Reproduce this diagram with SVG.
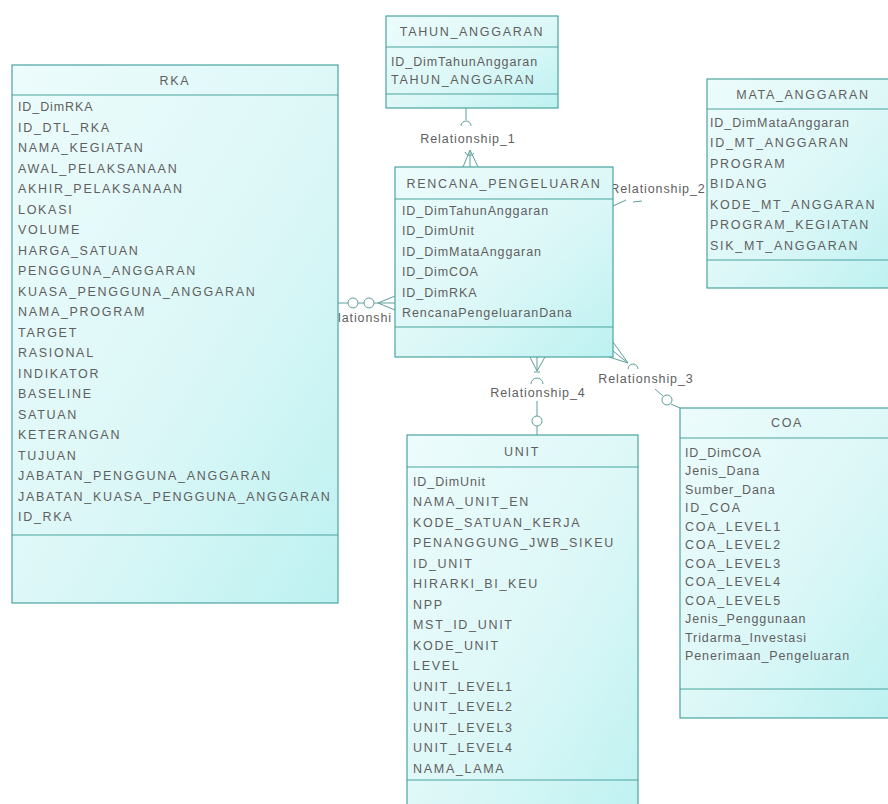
<svg xmlns="http://www.w3.org/2000/svg" width="888" height="804" viewBox="0 0 888 804">
  <defs>
    <linearGradient id="boxFill" x1="0" y1="0" x2="1" y2="1">
      <stop offset="0" stop-color="#edfcfc"/>
      <stop offset="0.55" stop-color="#dcf7f7"/>
      <stop offset="1" stop-color="#bdf1f1"/>
    </linearGradient>
    <style>
      .box { fill: url(#boxFill); stroke: #4aa39e; stroke-width: 1.2; }
      .sep { stroke: #4aa39e; stroke-width: 1.2; fill: none; }
      text { font-family: "Liberation Sans", Arial, sans-serif; font-size: 12.5px; fill: #5f5f5f; }
      .u { letter-spacing: 1.7px; }
      .m { letter-spacing: 0.9px; }
      .hd { text-anchor: middle; }
      .rel { stroke: #5e9f9c; stroke-width: 1; fill: none; }
      .lbl { letter-spacing: 0.9px; text-anchor: middle; }
    </style>
  </defs>

  <rect width="888" height="804" fill="#ffffff"/>

  <!-- connectors -->
  <g id="connectors">
    <!-- Relationship_1 : TAHUN_ANGGARAN -> RENCANA_PENGELUARAN -->
    <g id="rel1">
      <line class="rel" x1="466" y1="108" x2="466" y2="120"/>
      <path class="rel" d="M461,126 A5,5 0 0 1 471,126"/>
      <text class="lbl" x="468" y="143">Relationship_1</text>
      <path class="rel" d="M463,167 L470,150 L470,167 M470,150 L478,167"/>
      <path class="rel" d="M465,152 A5,5 0 0 0 474,153"/>
    </g>
    <!-- Relationship_2 : RENCANA_PENGELUARAN -> MATA_ANGGARAN -->
    <g id="rel2">
      <path class="rel" d="M613,206 L626,200 M633,202 L642,201"/>
      <text class="lbl" x="658" y="193">Relationship_2</text>
    </g>
    <!-- Relationship_3 : RENCANA_PENGELUARAN -> COA -->
    <g id="rel3">
      <path class="rel" d="M613,342 L628,363 M613,351 L628,363 M609,357 L628,363"/>
      <path class="rel" d="M628,369 A5,5 0 0 1 638,369"/>
      <text class="lbl" x="646" y="383">Relationship_3</text>
      <line class="rel" x1="655" y1="389" x2="663" y2="396"/>
      <circle class="rel" cx="667" cy="400" r="5"/>
      <line class="rel" x1="671" y1="404" x2="680" y2="408"/>
    </g>
    <!-- Relationship_4 : RENCANA_PENGELUARAN -> UNIT -->
    <g id="rel4">
      <path class="rel" d="M530,357 L537,371 L545,357 M537,357 L537,371"/>
      <line class="rel" x1="534" y1="372" x2="540" y2="372"/>
      <path class="rel" d="M531,384 A6,6 0 0 1 543,384"/>
      <text class="lbl" x="538" y="397">Relationship_4</text>
      <line class="rel" x1="537" y1="401" x2="537" y2="416"/>
      <circle class="rel" cx="537" cy="421" r="5"/>
      <line class="rel" x1="537" y1="426" x2="537" y2="435"/>
    </g>
    <!-- Relationship_5 : RKA -> RENCANA_PENGELUARAN -->
    <g id="rel5">
      <line class="rel" x1="338" y1="303" x2="348" y2="303"/>
      <circle class="rel" cx="353" cy="303" r="5"/>
      <line class="rel" x1="358" y1="303" x2="364" y2="303"/>
      <circle class="rel" cx="369" cy="303" r="5"/>
      <path class="rel" d="M374,303 L395,303 M378,303 L395,296 M378,303 L395,310"/>
      <text class="m" x="338" y="322">lationshi</text>
    </g>
  </g>

  <!-- TAHUN_ANGGARAN -->
  <g id="tahun_anggaran">
    <rect class="box" x="386" y="16" width="172" height="92"/>
    <line class="sep" x1="386" y1="47" x2="558" y2="47"/>
    <line class="sep" x1="386" y1="94" x2="558" y2="94"/>
    <text class="u hd" x="472" y="36">TAHUN_ANGGARAN</text>
    <text class="m" x="391" y="66">ID_DimTahunAnggaran</text>
    <text class="u" x="391" y="84">TAHUN_ANGGARAN</text>
  </g>

  <!-- RKA -->
  <g id="rka">
    <rect class="box" x="12" y="65" width="326" height="538"/>
    <line class="sep" x1="12" y1="95" x2="338" y2="95"/>
    <line class="sep" x1="12" y1="535" x2="338" y2="535"/>
    <text class="u hd" x="175" y="85">RKA</text>
    <text class="m" x="18" y="111">ID_DimRKA</text>
    <text class="u" x="18" y="131.5">ID_DTL_RKA</text>
    <text class="u" x="18" y="152">NAMA_KEGIATAN</text>
    <text class="u" x="18" y="172.5">AWAL_PELAKSANAAN</text>
    <text class="u" x="18" y="193">AKHIR_PELAKSANAAN</text>
    <text class="u" x="18" y="213.5">LOKASI</text>
    <text class="u" x="18" y="234">VOLUME</text>
    <text class="u" x="18" y="254.5">HARGA_SATUAN</text>
    <text class="u" x="18" y="275">PENGGUNA_ANGGARAN</text>
    <text class="u" x="18" y="295.5">KUASA_PENGGUNA_ANGGARAN</text>
    <text class="u" x="18" y="316">NAMA_PROGRAM</text>
    <text class="u" x="18" y="336.5">TARGET</text>
    <text class="u" x="18" y="357">RASIONAL</text>
    <text class="u" x="18" y="377.5">INDIKATOR</text>
    <text class="u" x="18" y="398">BASELINE</text>
    <text class="u" x="18" y="418.5">SATUAN</text>
    <text class="u" x="18" y="439">KETERANGAN</text>
    <text class="u" x="18" y="459.5">TUJUAN</text>
    <text class="u" x="18" y="480">JABATAN_PENGGUNA_ANGGARAN</text>
    <text class="u" x="18" y="500.5">JABATAN_KUASA_PENGGUNA_ANGGARAN</text>
    <text class="u" x="18" y="521">ID_RKA</text>
  </g>

  <!-- RENCANA_PENGELUARAN -->
  <g id="rencana_pengeluaran">
    <rect class="box" x="395" y="167" width="218" height="190"/>
    <line class="sep" x1="395" y1="199" x2="613" y2="199"/>
    <line class="sep" x1="395" y1="327" x2="613" y2="327"/>
    <text class="u hd" x="504" y="188">RENCANA_PENGELUARAN</text>
    <text class="m" x="402" y="214.5">ID_DimTahunAnggaran</text>
    <text class="m" x="402" y="235">ID_DimUnit</text>
    <text class="m" x="402" y="255.5">ID_DimMataAnggaran</text>
    <text class="m" x="402" y="276">ID_DimCOA</text>
    <text class="m" x="402" y="296.5">ID_DimRKA</text>
    <text class="m" x="402" y="317">RencanaPengeluaranDana</text>
  </g>

  <!-- MATA_ANGGARAN -->
  <g id="mata_anggaran">
    <rect class="box" x="707" y="79" width="192" height="209"/>
    <line class="sep" x1="707" y1="109" x2="899" y2="109"/>
    <line class="sep" x1="707" y1="260" x2="899" y2="260"/>
    <text class="u hd" x="803" y="99">MATA_ANGGARAN</text>
    <text class="m" x="710" y="126.5">ID_DimMataAnggaran</text>
    <text class="u" x="710" y="147">ID_MT_ANGGARAN</text>
    <text class="u" x="710" y="167.5">PROGRAM</text>
    <text class="u" x="710" y="188">BIDANG</text>
    <text class="u" x="710" y="208.5">KODE_MT_ANGGARAN</text>
    <text class="u" x="710" y="229">PROGRAM_KEGIATAN</text>
    <text class="u" x="710" y="249.5">SIK_MT_ANGGARAN</text>
  </g>

  <!-- UNIT -->
  <g id="unit">
    <rect class="box" x="407" y="435" width="231" height="400"/>
    <line class="sep" x1="407" y1="467" x2="638" y2="467"/>
    <line class="sep" x1="407" y1="780" x2="638" y2="780"/>
    <text class="u hd" x="522" y="456">UNIT</text>
    <text class="m" x="413" y="485.5">ID_DimUnit</text>
    <text class="u" x="413" y="506">NAMA_UNIT_EN</text>
    <text class="u" x="413" y="526.5">KODE_SATUAN_KERJA</text>
    <text class="u" x="413" y="547">PENANGGUNG_JWB_SIKEU</text>
    <text class="u" x="413" y="567.5">ID_UNIT</text>
    <text class="u" x="413" y="588">HIRARKI_BI_KEU</text>
    <text class="u" x="413" y="608.5">NPP</text>
    <text class="u" x="413" y="629">MST_ID_UNIT</text>
    <text class="u" x="413" y="649.5">KODE_UNIT</text>
    <text class="u" x="413" y="670">LEVEL</text>
    <text class="u" x="413" y="690.5">UNIT_LEVEL1</text>
    <text class="u" x="413" y="711">UNIT_LEVEL2</text>
    <text class="u" x="413" y="731.5">UNIT_LEVEL3</text>
    <text class="u" x="413" y="752">UNIT_LEVEL4</text>
    <text class="u" x="413" y="772.5">NAMA_LAMA</text>
  </g>

  <!-- COA -->
  <g id="coa">
    <rect class="box" x="680" y="408" width="214" height="310"/>
    <line class="sep" x1="680" y1="438" x2="894" y2="438"/>
    <line class="sep" x1="680" y1="689" x2="894" y2="689"/>
    <text class="u hd" x="787" y="427">COA</text>
    <text class="m" x="685" y="456.5">ID_DimCOA</text>
    <text class="m" x="685" y="475">Jenis_Dana</text>
    <text class="m" x="685" y="493.5">Sumber_Dana</text>
    <text class="u" x="685" y="512">ID_COA</text>
    <text class="u" x="685" y="530.5">COA_LEVEL1</text>
    <text class="u" x="685" y="549">COA_LEVEL2</text>
    <text class="u" x="685" y="567.5">COA_LEVEL3</text>
    <text class="u" x="685" y="586">COA_LEVEL4</text>
    <text class="u" x="685" y="604.5">COA_LEVEL5</text>
    <text class="m" x="685" y="623">Jenis_Penggunaan</text>
    <text class="m" x="685" y="641.5">Tridarma_Investasi</text>
    <text class="m" x="685" y="660">Penerimaan_Pengeluaran</text>
  </g>
</svg>
